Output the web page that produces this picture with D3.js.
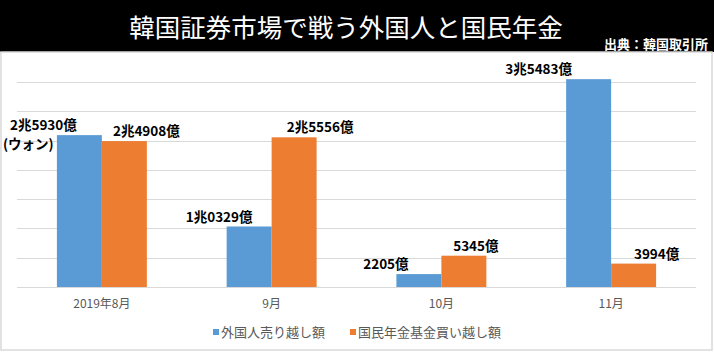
<!DOCTYPE html>
<html>
<head>
<meta charset="utf-8">
<script src="https://cdn.jsdelivr.net/npm/d3@7"></script>
<style>
  body { margin: 0; background: #fff; }
  svg { display: block; font-family: "Noto Sans CJK JP", "Noto Sans", sans-serif; }
</style>
</head>
<body>
<div id="chart"></div>
<script>
// data (単位：億ウォン)
var months = ["2019年8月", "9月", "10月", "11月"];
var foreignSell = [25930, 10329, 2205, 35483];
var pensionBuy = [24908, 25556, 5345, 3994];
var foreignLabels = ["2兆5930億", "1兆0329億", "2205億", "3兆5483億"];
var pensionLabels = ["2兆4908億", "2兆5556億", "5345億", "3994億"];
var seriesNames = ["外国人売り越し額", "国民年金基金買い越し額"];
var gridTicks = [0, 5000, 10000, 15000, 20000, 25000, 30000, 35000];

// label nudges (the original labels are hand placed)
var foreignDx = [-36, -30, -33, -50];
var pensionDx = [22, 26, 12, 23];

var W = 714, H = 353;
var blue = "#5b9bd5", orange = "#ed7d31";

var svg = d3.select("#chart")
  .append("svg")
    .attr("width", W)
    .attr("height", H);

// header
svg.append("rect").attr("x", 0).attr("y", 0).attr("width", W).attr("height", 52).attr("fill", "#000");
svg.append("text")
  .attr("x", 346).attr("y", 37)
  .attr("text-anchor", "middle")
  .attr("fill", "#fff")
  .style("font-size", "25.5px")
  .text("韓国証券市場で戦う外国人と国民年金");
svg.append("text")
  .attr("x", 708).attr("y", 49)
  .attr("text-anchor", "end")
  .attr("fill", "#fff")
  .style("font-size", "13px")
  .style("font-weight", "bold")
  .text("出典：韓国取引所");

// chart panel
svg.append("rect")
  .attr("x", 1).attr("y", 52).attr("width", 711).attr("height", 298)
  .attr("fill", "#fff").attr("stroke", "#d9d9d9").attr("stroke-width", 1.5);

var x = d3.scaleBand()
  .domain(months)
  .range([17, 696])
  .paddingInner(0.47)
  .paddingOuter(0.235);

var y = d3.scaleLinear()
  .domain([0, 35000])
  .range([287, 82]);

// gridlines
svg.append("g")
  .selectAll("line")
  .data(gridTicks)
  .enter().append("line")
    .attr("x1", 17).attr("x2", 696)
    .attr("y1", function(d) { return Math.round(y(d)) + 0.5; })
    .attr("y2", function(d) { return Math.round(y(d)) + 0.5; })
    .attr("stroke", "#d9d9d9")
    .attr("stroke-width", 1.2);

var sub = d3.scaleBand().domain([0, 1]).range([0, x.bandwidth()]);

var rows = months.map(function(m, i) {
  return { month: m, vals: [foreignSell[i], pensionBuy[i]], labs: [foreignLabels[i], pensionLabels[i]], dx: [foreignDx[i], pensionDx[i]] };
});

var groups = svg.append("g")
  .selectAll("g")
  .data(rows)
  .enter().append("g")
    .attr("transform", function(d) { return "translate(" + x(d.month) + ",0)"; });

groups.selectAll("rect")
  .data(function(d) { return d.vals; })
  .enter().append("rect")
    .attr("x", function(d, j) { return sub(j); })
    .attr("y", function(d) { return y(d); })
    .attr("width", sub.bandwidth())
    .attr("height", function(d) { return y(0) - y(d); })
    .attr("fill", function(d, j) { return j == 0 ? blue : orange; });

groups.selectAll("text")
  .data(function(d) { return d.vals.map(function(v, j) { return { v: v, j: j, lab: d.labs[j], dx: d.dx[j] }; }); })
  .enter().append("text")
    .attr("x", function(d) { return sub(d.j) + sub.bandwidth() / 2 + d.dx; })
    .attr("y", function(d) { return y(d.v) - 5; })
    .attr("text-anchor", "middle")
    .attr("fill", "#000")
    .style("font-size", "13.5px")
    .style("font-weight", "bold")
    .text(function(d) { return d.lab; });

// unit note under first label
svg.append("text")
  .attr("x", 3).attr("y", 149)
  .attr("fill", "#000")
  .style("font-size", "13.5px")
  .style("font-weight", "bold")
  .text("(ウォン)");

// x axis labels
var xAxis = svg.append("g")
  .attr("transform", "translate(0,287)")
  .call(d3.axisBottom(x).tickSize(0).tickPadding(12));
xAxis.select(".domain").remove();
xAxis.selectAll("text")
  .attr("fill", "#595959")
  .style("font-size", "12px")
  .style("font-family", "\"Noto Sans CJK JP\", sans-serif");

// legend
var legendX = [213, 350];
var legend = svg.append("g")
  .selectAll("g")
  .data(seriesNames)
  .enter().append("g")
    .attr("transform", function(d, i) { return "translate(" + legendX[i] + ",329)"; });
legend.append("rect")
  .attr("width", 6).attr("height", 6)
  .attr("y", 0)
  .attr("fill", function(d, i) { return i == 0 ? blue : orange; });
legend.append("text")
  .attr("x", 8).attr("y", 7.5)
  .attr("fill", "#595959")
  .style("font-size", "13px")
  .text(function(d) { return d; });
</script>
</body>
</html>
